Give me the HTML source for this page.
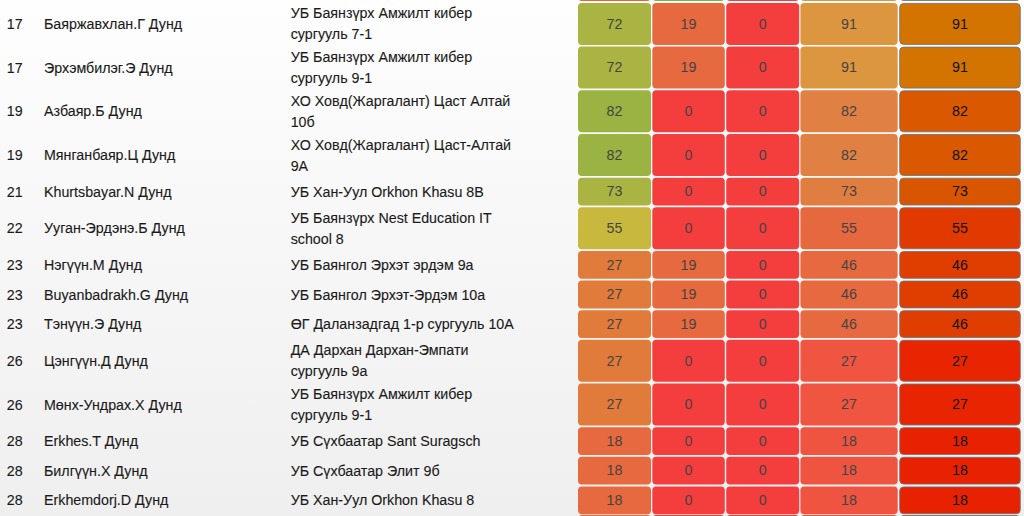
<!DOCTYPE html>
<html><head><meta charset="utf-8"><style>
html,body{margin:0;padding:0;}
body{width:1024px;height:516px;overflow:hidden;position:relative;background:linear-gradient(#fefefe,#efefef);font-family:"Liberation Sans",sans-serif;font-size:14.25px;color:#1a1a1a;}
.bg{position:absolute;left:0;top:0;}
.t{position:absolute;line-height:21px;white-space:nowrap;-webkit-text-stroke:0.1px #111;}
.rk{left:6.8px;}
.nm{left:44px;}
.sc{left:290.7px;}
.n{position:absolute;line-height:21px;text-align:center;color:#444;}
.n5{color:#111;}
</style></head><body>
<svg class="bg" width="1024" height="516"><rect x="578.00" y="-26.80" width="73.00" height="27.80" rx="4" fill="#e8633a"/><rect x="652.30" y="-26.80" width="72.50" height="27.80" rx="4" fill="#7db43c"/><rect x="726.20" y="-26.80" width="73.00" height="27.80" rx="4" fill="#f43e3e"/><rect x="800.40" y="-26.80" width="97.30" height="27.80" rx="4" fill="#de9640"/><rect x="899.70" y="-26.30" width="120.60" height="26.80" rx="4" fill="#d37400" stroke="rgba(110,116,122,0.85)" stroke-width="1"/><rect x="578.00" y="2.90" width="73.00" height="42.00" rx="4" fill="#aab443"/><rect x="652.30" y="2.90" width="72.50" height="42.00" rx="4" fill="#e7693f"/><rect x="726.20" y="2.90" width="73.00" height="42.00" rx="4" fill="#f43e3e"/><rect x="800.40" y="2.90" width="97.30" height="42.00" rx="4" fill="#dc9640"/><rect x="899.70" y="3.40" width="120.60" height="41.00" rx="4" fill="#d37400" stroke="rgba(110,116,122,0.85)" stroke-width="1"/><rect x="578.00" y="46.60" width="73.00" height="42.00" rx="4" fill="#aab443"/><rect x="652.30" y="46.60" width="72.50" height="42.00" rx="4" fill="#e7693f"/><rect x="726.20" y="46.60" width="73.00" height="42.00" rx="4" fill="#f43e3e"/><rect x="800.40" y="46.60" width="97.30" height="42.00" rx="4" fill="#dc9640"/><rect x="899.70" y="47.10" width="120.60" height="41.00" rx="4" fill="#d37400" stroke="rgba(110,116,122,0.85)" stroke-width="1"/><rect x="578.00" y="90.30" width="73.00" height="42.00" rx="4" fill="#9ab342"/><rect x="652.30" y="90.30" width="72.50" height="42.00" rx="4" fill="#f43e3e"/><rect x="726.20" y="90.30" width="73.00" height="42.00" rx="4" fill="#f43e3e"/><rect x="800.40" y="90.30" width="97.30" height="42.00" rx="4" fill="#e08042"/><rect x="899.70" y="90.80" width="120.60" height="41.00" rx="4" fill="#d95800" stroke="rgba(110,116,122,0.85)" stroke-width="1"/><rect x="578.00" y="134.00" width="73.00" height="42.00" rx="4" fill="#9ab342"/><rect x="652.30" y="134.00" width="72.50" height="42.00" rx="4" fill="#f43e3e"/><rect x="726.20" y="134.00" width="73.00" height="42.00" rx="4" fill="#f43e3e"/><rect x="800.40" y="134.00" width="97.30" height="42.00" rx="4" fill="#e08042"/><rect x="899.70" y="134.50" width="120.60" height="41.00" rx="4" fill="#d95800" stroke="rgba(110,116,122,0.85)" stroke-width="1"/><rect x="578.00" y="177.70" width="73.00" height="27.80" rx="4" fill="#aab443"/><rect x="652.30" y="177.70" width="72.50" height="27.80" rx="4" fill="#f43e3e"/><rect x="726.20" y="177.70" width="73.00" height="27.80" rx="4" fill="#f43e3e"/><rect x="800.40" y="177.70" width="97.30" height="27.80" rx="4" fill="#e07e42"/><rect x="899.70" y="178.20" width="120.60" height="26.80" rx="4" fill="#d95500" stroke="rgba(110,116,122,0.85)" stroke-width="1"/><rect x="578.00" y="207.30" width="73.00" height="42.00" rx="4" fill="#c9b83e"/><rect x="652.30" y="207.30" width="72.50" height="42.00" rx="4" fill="#f43e3e"/><rect x="726.20" y="207.30" width="73.00" height="42.00" rx="4" fill="#f43e3e"/><rect x="800.40" y="207.30" width="97.30" height="42.00" rx="4" fill="#e6683f"/><rect x="899.70" y="207.80" width="120.60" height="41.00" rx="4" fill="#e03a00" stroke="rgba(110,116,122,0.85)" stroke-width="1"/><rect x="578.00" y="251.00" width="73.00" height="27.80" rx="4" fill="#e07b3b"/><rect x="652.30" y="251.00" width="72.50" height="27.80" rx="4" fill="#e7693f"/><rect x="726.20" y="251.00" width="73.00" height="27.80" rx="4" fill="#f43e3e"/><rect x="800.40" y="251.00" width="97.30" height="27.80" rx="4" fill="#e6693f"/><rect x="899.70" y="251.50" width="120.60" height="26.80" rx="4" fill="#e03e00" stroke="rgba(110,116,122,0.85)" stroke-width="1"/><rect x="578.00" y="280.60" width="73.00" height="27.80" rx="4" fill="#e07b3b"/><rect x="652.30" y="280.60" width="72.50" height="27.80" rx="4" fill="#e7693f"/><rect x="726.20" y="280.60" width="73.00" height="27.80" rx="4" fill="#f43e3e"/><rect x="800.40" y="280.60" width="97.30" height="27.80" rx="4" fill="#e6693f"/><rect x="899.70" y="281.10" width="120.60" height="26.80" rx="4" fill="#e03e00" stroke="rgba(110,116,122,0.85)" stroke-width="1"/><rect x="578.00" y="310.20" width="73.00" height="27.80" rx="4" fill="#e07b3b"/><rect x="652.30" y="310.20" width="72.50" height="27.80" rx="4" fill="#e7693f"/><rect x="726.20" y="310.20" width="73.00" height="27.80" rx="4" fill="#f43e3e"/><rect x="800.40" y="310.20" width="97.30" height="27.80" rx="4" fill="#e6693f"/><rect x="899.70" y="310.70" width="120.60" height="26.80" rx="4" fill="#e03e00" stroke="rgba(110,116,122,0.85)" stroke-width="1"/><rect x="578.00" y="339.80" width="73.00" height="42.00" rx="4" fill="#e07b3b"/><rect x="652.30" y="339.80" width="72.50" height="42.00" rx="4" fill="#f43e3e"/><rect x="726.20" y="339.80" width="73.00" height="42.00" rx="4" fill="#f43e3e"/><rect x="800.40" y="339.80" width="97.30" height="42.00" rx="4" fill="#ef5540"/><rect x="899.70" y="340.30" width="120.60" height="41.00" rx="4" fill="#e82500" stroke="rgba(110,116,122,0.85)" stroke-width="1"/><rect x="578.00" y="383.50" width="73.00" height="42.00" rx="4" fill="#e07b3b"/><rect x="652.30" y="383.50" width="72.50" height="42.00" rx="4" fill="#f43e3e"/><rect x="726.20" y="383.50" width="73.00" height="42.00" rx="4" fill="#f43e3e"/><rect x="800.40" y="383.50" width="97.30" height="42.00" rx="4" fill="#ef5540"/><rect x="899.70" y="384.00" width="120.60" height="41.00" rx="4" fill="#e82500" stroke="rgba(110,116,122,0.85)" stroke-width="1"/><rect x="578.00" y="427.20" width="73.00" height="27.80" rx="4" fill="#e7693f"/><rect x="652.30" y="427.20" width="72.50" height="27.80" rx="4" fill="#f43e3e"/><rect x="726.20" y="427.20" width="73.00" height="27.80" rx="4" fill="#f43e3e"/><rect x="800.40" y="427.20" width="97.30" height="27.80" rx="4" fill="#ef5440"/><rect x="899.70" y="427.70" width="120.60" height="26.80" rx="4" fill="#e82200" stroke="rgba(110,116,122,0.85)" stroke-width="1"/><rect x="578.00" y="456.80" width="73.00" height="27.80" rx="4" fill="#e7693f"/><rect x="652.30" y="456.80" width="72.50" height="27.80" rx="4" fill="#f43e3e"/><rect x="726.20" y="456.80" width="73.00" height="27.80" rx="4" fill="#f43e3e"/><rect x="800.40" y="456.80" width="97.30" height="27.80" rx="4" fill="#ef5440"/><rect x="899.70" y="457.30" width="120.60" height="26.80" rx="4" fill="#e82200" stroke="rgba(110,116,122,0.85)" stroke-width="1"/><rect x="578.00" y="486.40" width="73.00" height="27.80" rx="4" fill="#e7693f"/><rect x="652.30" y="486.40" width="72.50" height="27.80" rx="4" fill="#f43e3e"/><rect x="726.20" y="486.40" width="73.00" height="27.80" rx="4" fill="#f43e3e"/><rect x="800.40" y="486.40" width="97.30" height="27.80" rx="4" fill="#ef5440"/><rect x="899.70" y="486.90" width="120.60" height="26.80" rx="4" fill="#e82200" stroke="rgba(110,116,122,0.85)" stroke-width="1"/><rect x="578.00" y="515.00" width="73.00" height="27.80" rx="4" fill="#e7693f"/><rect x="652.30" y="515.00" width="72.50" height="27.80" rx="4" fill="#f43e3e"/><rect x="726.20" y="515.00" width="73.00" height="27.80" rx="4" fill="#f43e3e"/><rect x="800.40" y="515.00" width="97.30" height="27.80" rx="4" fill="#ef5440"/><rect x="899.70" y="515.50" width="120.60" height="26.80" rx="4" fill="#e82200" stroke="rgba(110,116,122,0.85)" stroke-width="1"/></svg>
<div class="t rk" style="top:13.90px">17</div>
<div class="t nm" style="top:13.90px">Баяржавхлан.Г Дунд</div>
<div class="t sc" style="top:3.40px">УБ Баянзүрх Амжилт кибер<br>сургууль 7-1</div>
<div class="n" style="left:578px;width:73px;top:13.60px">72</div>
<div class="n" style="left:652.3px;width:72.5px;top:13.60px">19</div>
<div class="n" style="left:726.2px;width:73px;top:13.60px">0</div>
<div class="n" style="left:800.4px;width:97.3px;top:13.60px">91</div>
<div class="n n5" style="left:899.2px;width:121.6px;top:13.60px">91</div>
<div class="t rk" style="top:57.60px">17</div>
<div class="t nm" style="top:57.60px">Эрхэмбилэг.Э Дунд</div>
<div class="t sc" style="top:47.10px">УБ Баянзүрх Амжилт кибер<br>сургууль 9-1</div>
<div class="n" style="left:578px;width:73px;top:57.30px">72</div>
<div class="n" style="left:652.3px;width:72.5px;top:57.30px">19</div>
<div class="n" style="left:726.2px;width:73px;top:57.30px">0</div>
<div class="n" style="left:800.4px;width:97.3px;top:57.30px">91</div>
<div class="n n5" style="left:899.2px;width:121.6px;top:57.30px">91</div>
<div class="t rk" style="top:101.30px">19</div>
<div class="t nm" style="top:101.30px">Азбаяр.Б Дунд</div>
<div class="t sc" style="top:90.80px">ХО Ховд(Жаргалант) Цаст Алтай<br>10б</div>
<div class="n" style="left:578px;width:73px;top:101.00px">82</div>
<div class="n" style="left:652.3px;width:72.5px;top:101.00px">0</div>
<div class="n" style="left:726.2px;width:73px;top:101.00px">0</div>
<div class="n" style="left:800.4px;width:97.3px;top:101.00px">82</div>
<div class="n n5" style="left:899.2px;width:121.6px;top:101.00px">82</div>
<div class="t rk" style="top:145.00px">19</div>
<div class="t nm" style="top:145.00px">Мянганбаяр.Ц Дунд</div>
<div class="t sc" style="top:134.50px">ХО Ховд(Жаргалант) Цаст-Алтай<br>9А</div>
<div class="n" style="left:578px;width:73px;top:144.70px">82</div>
<div class="n" style="left:652.3px;width:72.5px;top:144.70px">0</div>
<div class="n" style="left:726.2px;width:73px;top:144.70px">0</div>
<div class="n" style="left:800.4px;width:97.3px;top:144.70px">82</div>
<div class="n n5" style="left:899.2px;width:121.6px;top:144.70px">82</div>
<div class="t rk" style="top:181.60px">21</div>
<div class="t nm" style="top:181.60px">Khurtsbayar.N Дунд</div>
<div class="t sc" style="top:181.60px">УБ Хан-Уул Orkhon Khasu 8B</div>
<div class="n" style="left:578px;width:73px;top:181.30px">73</div>
<div class="n" style="left:652.3px;width:72.5px;top:181.30px">0</div>
<div class="n" style="left:726.2px;width:73px;top:181.30px">0</div>
<div class="n" style="left:800.4px;width:97.3px;top:181.30px">73</div>
<div class="n n5" style="left:899.2px;width:121.6px;top:181.30px">73</div>
<div class="t rk" style="top:218.30px">22</div>
<div class="t nm" style="top:218.30px">Ууган-Эрдэнэ.Б Дунд</div>
<div class="t sc" style="top:207.80px">УБ Баянзүрх Nest Education IT<br>school 8</div>
<div class="n" style="left:578px;width:73px;top:218.00px">55</div>
<div class="n" style="left:652.3px;width:72.5px;top:218.00px">0</div>
<div class="n" style="left:726.2px;width:73px;top:218.00px">0</div>
<div class="n" style="left:800.4px;width:97.3px;top:218.00px">55</div>
<div class="n n5" style="left:899.2px;width:121.6px;top:218.00px">55</div>
<div class="t rk" style="top:254.90px">23</div>
<div class="t nm" style="top:254.90px">Нэгүүн.М Дунд</div>
<div class="t sc" style="top:254.90px">УБ Баянгол Эрхэт эрдэм 9а</div>
<div class="n" style="left:578px;width:73px;top:254.60px">27</div>
<div class="n" style="left:652.3px;width:72.5px;top:254.60px">19</div>
<div class="n" style="left:726.2px;width:73px;top:254.60px">0</div>
<div class="n" style="left:800.4px;width:97.3px;top:254.60px">46</div>
<div class="n n5" style="left:899.2px;width:121.6px;top:254.60px">46</div>
<div class="t rk" style="top:284.50px">23</div>
<div class="t nm" style="top:284.50px">Buyanbadrakh.G Дунд</div>
<div class="t sc" style="top:284.50px">УБ Баянгол Эрхэт-Эрдэм 10а</div>
<div class="n" style="left:578px;width:73px;top:284.20px">27</div>
<div class="n" style="left:652.3px;width:72.5px;top:284.20px">19</div>
<div class="n" style="left:726.2px;width:73px;top:284.20px">0</div>
<div class="n" style="left:800.4px;width:97.3px;top:284.20px">46</div>
<div class="n n5" style="left:899.2px;width:121.6px;top:284.20px">46</div>
<div class="t rk" style="top:314.10px">23</div>
<div class="t nm" style="top:314.10px">Тэнүүн.Э Дунд</div>
<div class="t sc" style="top:314.10px">ӨГ Даланзадгад 1-р сургууль 10А</div>
<div class="n" style="left:578px;width:73px;top:313.80px">27</div>
<div class="n" style="left:652.3px;width:72.5px;top:313.80px">19</div>
<div class="n" style="left:726.2px;width:73px;top:313.80px">0</div>
<div class="n" style="left:800.4px;width:97.3px;top:313.80px">46</div>
<div class="n n5" style="left:899.2px;width:121.6px;top:313.80px">46</div>
<div class="t rk" style="top:350.80px">26</div>
<div class="t nm" style="top:350.80px">Цэнгүүн.Д Дунд</div>
<div class="t sc" style="top:340.30px">ДА Дархан Дархан-Эмпати<br>сургууль 9а</div>
<div class="n" style="left:578px;width:73px;top:350.50px">27</div>
<div class="n" style="left:652.3px;width:72.5px;top:350.50px">0</div>
<div class="n" style="left:726.2px;width:73px;top:350.50px">0</div>
<div class="n" style="left:800.4px;width:97.3px;top:350.50px">27</div>
<div class="n n5" style="left:899.2px;width:121.6px;top:350.50px">27</div>
<div class="t rk" style="top:394.50px">26</div>
<div class="t nm" style="top:394.50px">Мөнх-Ундрах.Х Дунд</div>
<div class="t sc" style="top:384.00px">УБ Баянзүрх Амжилт кибер<br>сургууль 9-1</div>
<div class="n" style="left:578px;width:73px;top:394.20px">27</div>
<div class="n" style="left:652.3px;width:72.5px;top:394.20px">0</div>
<div class="n" style="left:726.2px;width:73px;top:394.20px">0</div>
<div class="n" style="left:800.4px;width:97.3px;top:394.20px">27</div>
<div class="n n5" style="left:899.2px;width:121.6px;top:394.20px">27</div>
<div class="t rk" style="top:431.10px">28</div>
<div class="t nm" style="top:431.10px">Erkhes.T Дунд</div>
<div class="t sc" style="top:431.10px">УБ Сүхбаатар Sant Suragsch</div>
<div class="n" style="left:578px;width:73px;top:430.80px">18</div>
<div class="n" style="left:652.3px;width:72.5px;top:430.80px">0</div>
<div class="n" style="left:726.2px;width:73px;top:430.80px">0</div>
<div class="n" style="left:800.4px;width:97.3px;top:430.80px">18</div>
<div class="n n5" style="left:899.2px;width:121.6px;top:430.80px">18</div>
<div class="t rk" style="top:460.70px">28</div>
<div class="t nm" style="top:460.70px">Билгүүн.Х Дунд</div>
<div class="t sc" style="top:460.70px">УБ Сүхбаатар Элит 9б</div>
<div class="n" style="left:578px;width:73px;top:460.40px">18</div>
<div class="n" style="left:652.3px;width:72.5px;top:460.40px">0</div>
<div class="n" style="left:726.2px;width:73px;top:460.40px">0</div>
<div class="n" style="left:800.4px;width:97.3px;top:460.40px">18</div>
<div class="n n5" style="left:899.2px;width:121.6px;top:460.40px">18</div>
<div class="t rk" style="top:490.30px">28</div>
<div class="t nm" style="top:490.30px">Erkhemdorj.D Дунд</div>
<div class="t sc" style="top:490.30px">УБ Хан-Уул Orkhon Khasu 8</div>
<div class="n" style="left:578px;width:73px;top:490.00px">18</div>
<div class="n" style="left:652.3px;width:72.5px;top:490.00px">0</div>
<div class="n" style="left:726.2px;width:73px;top:490.00px">0</div>
<div class="n" style="left:800.4px;width:97.3px;top:490.00px">18</div>
<div class="n n5" style="left:899.2px;width:121.6px;top:490.00px">18</div>
</body></html>
